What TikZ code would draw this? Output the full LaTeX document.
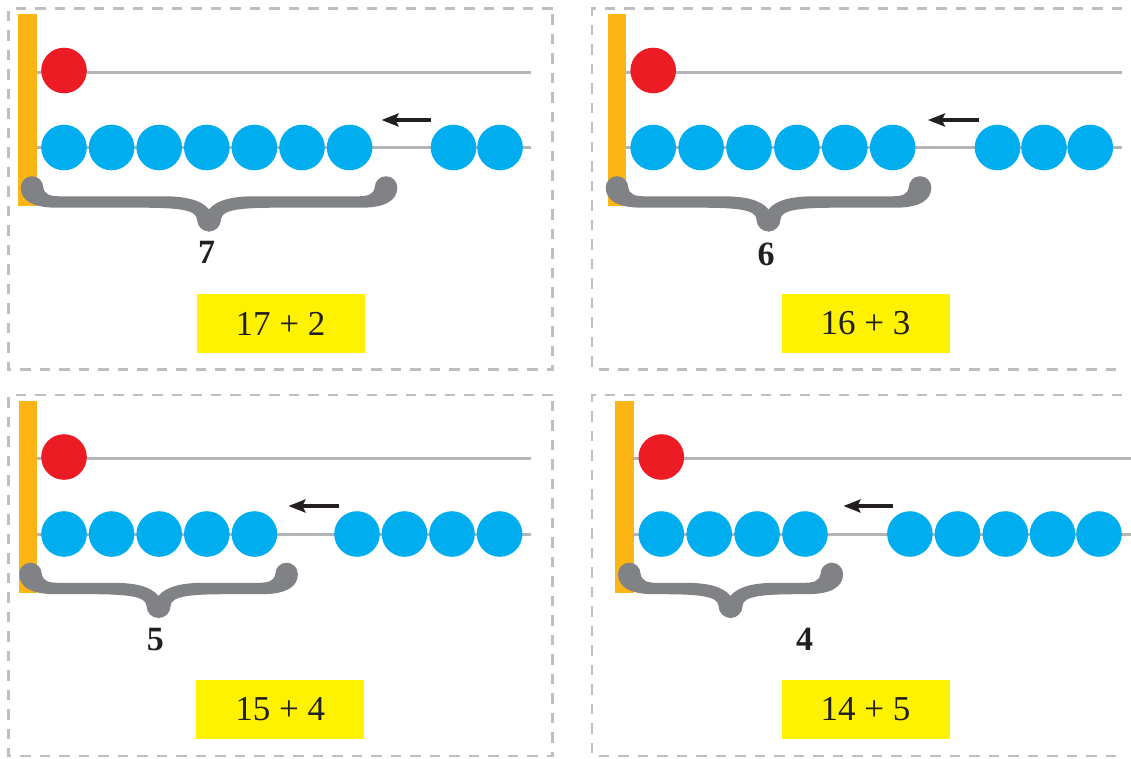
\documentclass[tikz,border=0pt]{standalone}
\usepackage{fontspec}
\setmainfont{Liberation Serif}
\usetikzlibrary{arrows.meta}
\definecolor{barorange}{HTML}{FDB515}
\definecolor{beadred}{HTML}{ED1C24}
\definecolor{beadblue}{HTML}{00AEEF}
\definecolor{boxyellow}{HTML}{FFF200}
\definecolor{wiregray}{HTML}{B4B5B8}
\definecolor{dashgray}{HTML}{BCBEC0}
\definecolor{bracegray}{HTML}{808285}
\definecolor{inkblack}{HTML}{231F20}
\tikzset{
 bead/.style={circle, inner sep=0pt, minimum size=45.6pt},
 bluebead/.style={bead, fill=beadblue},
 redbead/.style={bead, fill=beadred},
 wire/.style={draw=wiregray, line width=3pt},
 frame/.style={draw=dashgray, line width=2.2pt, dash pattern=on 10.5pt off 9pt},
 pushline/.style={draw=inkblack, line width=3.2pt, -{Stealth[length=17pt,width=13pt,inset=3pt]}},
 sumbox/.style={fill=boxyellow, inner sep=0pt, minimum width=168pt, minimum height=59pt, text=inkblack, font=\fontsize{35}{40}\selectfont},
 counttext/.style={font=\fontsize{34}{40}\selectfont\bfseries, text=inkblack, anchor=base, inner sep=0pt},
}
\newcommand\halfbr[1]{%
 \fill[bracegray] (#1,21.8) .. controls ({#1-8},12) and ({#1-25},8.8) .. ({#1-45},8.8)
  -- (28,8.8) .. controls (18,8.8) and (12.5,7) .. (11.3,0)
  .. controls (11.3,-6.24) and (6.24,-11.3) .. (0,-11.3)
  .. controls (-6.24,-11.3) and (-11.3,-6.24) .. (-11.3,0)
  .. controls (-11.3,12.5) and (0,20.2) .. (25,20.2)
  -- ({#1-70},20.2) .. controls ({#1-35},20.2) and ({#1-12},21.5) .. ({#1-12},32)
  .. controls ({#1-12},38.6) and ({#1-6.6},44) .. (#1,44)
  -- ({#1+0.6},44) -- ({#1+0.6},23) -- cycle;}
\newcommand\mybrace[3]{%
 \pgfmathsetmacro\bw{(#2-#1)/2}%
 \begin{scope}[shift={(#1,#3)}]\halfbr{\bw}\end{scope}
 \begin{scope}[shift={(#2,#3)},xscale=-1]\halfbr{\bw}\end{scope}}
\begin{document}
\begin{tikzpicture}[x=1pt,y=-1pt]
\useasboundingbox (0,0) rectangle (1131,758);
% ---------- panel 1 ----------
\draw[frame] (552.5,8.5) -- (8.5,8.5) -- (8.5,369.5) -- (552.5,369.5) -- cycle;
\fill[barorange] (18.4,14) rectangle (36.5,206);
\draw[wire] (36.5,72) -- (531,72);
\draw[wire] (36.5,147.5) -- (531,147.5);
\node[redbead] (p1red) at (64,70.5) {};
\foreach \x [count=\i] in {64,111.6,159.2,206.8,254.4,302,349.6,453.5,500}
  \node[bluebead] (p1b\i) at (\x,147.5) {};
\coordinate (p1at) at (431,120); \coordinate (p1ah) at (381.5,120);
\draw[pushline] (p1at) -- (p1ah);
\mybrace{32}{386}{187.5}
\node[counttext] (p1n) at (206.5,263.3) {7};
\node[sumbox] (p1sum) at (280.5,323.5) {17 + 2};
% ---------- panel 2 ----------
\draw[frame] (1122,8.5) -- (592.3,8.5) -- (592.3,369.5) -- (1122,369.5);
\fill[barorange] (607.5,14) rectangle (625.8,206);
\draw[wire] (625.8,72) -- (1122,72);
\draw[wire] (625.8,147.5) -- (1122,147.5);
\node[redbead] (p2red) at (653.2,70.5) {};
\foreach \x [count=\i] in {653.2,701.1,749,796.9,844.8,892.7,997.5,1044,1090.3}
  \node[bluebead] (p2b\i) at (\x,147.5) {};
\coordinate (p2at) at (978.6,120); \coordinate (p2ah) at (927.9,120);
\draw[pushline] (p2at) -- (p2ah);
\mybrace{617}{920}{187.5}
\node[counttext] (p2n) at (766,265) {6};
\node[sumbox] (p2sum) at (865.5,323.5) {16 + 3};
% ---------- panel 3 ----------
\begin{scope}[shift={(0,386.5)}]
\draw[frame] (552.5,8.5) -- (8.5,8.5) -- (8.5,369.5) -- (552.5,369.5) -- cycle;
\fill[barorange] (18.5,14) rectangle (36.7,206);
\draw[wire] (36.7,72) -- (531,72);
\draw[wire] (36.7,147.5) -- (531,147.5);
\node[redbead] (p3red) at (64,70.5) {};
\foreach \x [count=\i] in {64,111.6,159.2,206.8,254.4,357,404.5,452,499.6}
  \node[bluebead] (p3b\i) at (\x,147.5) {};
\coordinate (p3at) at (339,119.5); \coordinate (p3ah) at (288.4,119.5);
\draw[pushline] (p3at) -- (p3ah);
\mybrace{30.5}{286.6}{187.5}
\node[counttext] (p3n) at (155.4,264.2) {5};
\node[sumbox] (p3sum) at (280.3,322.5) {15 + 4};
\end{scope}
% ---------- panel 4 ----------
\begin{scope}[shift={(0,386.5)}]
\draw[frame] (1122,8.5) -- (592.3,8.5) -- (592.3,369.5) -- (1122,369.5);
\fill[barorange] (615.2,14) rectangle (633.9,206);
\draw[wire] (633.9,72) -- (1131,72);
\draw[wire] (633.9,147.5) -- (1131,147.5);
\node[redbead] (p4red) at (661.3,70.5) {};
\foreach \x [count=\i] in {661.3,709.2,757.1,805,909.9,957.5,1005.4,1052.5,1099}
  \node[bluebead] (p4b\i) at (\x,147.5) {};
\coordinate (p4at) at (893.4,119.5); \coordinate (p4ah) at (843.4,119.5);
\draw[pushline] (p4at) -- (p4ah);
\mybrace{629.3}{831.8}{187.5}
\node[counttext] (p4n) at (804.6,264.2) {4};
\node[sumbox] (p4sum) at (865.5,322.5) {14 + 5};
\end{scope}
\end{tikzpicture}
\end{document}
